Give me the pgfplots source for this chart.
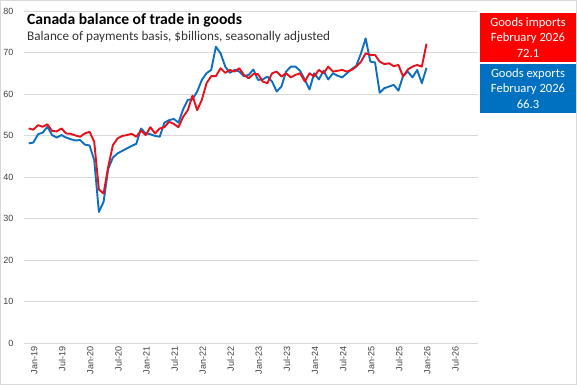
\documentclass[border=0pt]{standalone}
\usepackage{pgfplots}
\pgfplotsset{compat=1.18}
\usepackage{pgfplotstable}
\usepackage{fontspec}
\setmainfont{Carlito}
\newfontfamily\tickfont{Liberation Sans}
\definecolor{impred}{HTML}{E8101A}
\definecolor{expblue}{HTML}{0F6FBF}
\definecolor{boxred}{HTML}{FF0000}
\definecolor{boxblue}{HTML}{0070C0}
\definecolor{gridc}{HTML}{D9D9D9}
\definecolor{tickc}{HTML}{404040}
\pgfplotstableread{
i exp imp
0 48.1 51.7
1 48.3 51.4
2 50.3 52.5
3 50.7 52.1
4 52.1 52.7
5 50.1 51.1
6 49.5 51.0
7 50.1 51.7
8 49.5 50.5
9 49.1 50.4
10 48.8 50.0
11 48.9 49.7
12 47.8 50.5
13 47.6 50.9
14 44.1 48.5
15 31.6 37.0
16 34.0 36.0
17 42.0 42.5
18 44.7 47.7
19 45.7 49.3
20 46.3 49.9
21 46.9 50.1
22 47.5 50.4
23 48.0 49.7
24 51.7 51.2
25 50.5 50.1
26 50.3 52.0
27 49.9 50.5
28 49.7 51.7
29 53.1 52.0
30 53.7 53.3
31 54.0 52.8
32 53.1 52.0
33 56.3 54.5
34 58.6 56.1
35 58.7 59.6
36 60.6 56.1
37 63.4 58.6
38 65.0 62.6
39 65.8 64.3
40 71.4 64.3
41 69.8 66.2
42 66.6 65.1
43 65.1 65.8
44 65.8 65.4
45 65.4 66.2
46 64.3 64.6
47 64.6 63.8
48 65.9 64.8
49 63.4 64.8
50 63.5 63.0
51 64.2 62.6
52 63.0 65.0
53 60.6 65.4
54 61.8 64.2
55 65.4 65.0
56 66.6 64.0
57 66.6 64.6
58 65.6 65.0
59 63.4 63.0
60 61.1 65.0
61 65.0 64.2
62 63.5 65.8
63 65.6 65.0
64 63.5 66.6
65 65.0 65.4
66 64.4 65.6
67 64.0 65.8
68 65.0 65.4
69 66.0 65.8
70 66.8 66.6
71 69.8 67.8
72 73.4 69.8
73 67.8 69.4
74 67.6 69.4
75 60.3 67.8
76 61.4 67.2
77 61.8 67.4
78 62.2 66.7
79 60.8 67.0
80 64.4 64.2
81 65.4 65.9
82 64.0 66.6
83 65.8 67.0
84 62.6 66.6
85 66.3 72.1
}\tradedata
\begin{document}
\begin{tikzpicture}
\useasboundingbox (0,0) rectangle (577bp,385bp);
\draw[gridc, line width=0.75bp] (0.5bp,0.5bp) rectangle (576.5bp,384.5bp);
\begin{axis}[
  at={(24bp,42bp)}, anchor=south west,
  scale only axis, width=454bp, height=332bp,
  xmin=-1, xmax=96, ymin=0, ymax=80,
  axis line style={draw=none},
  ytick={0,10,...,80},
  ymajorgrids, grid style={gridc, line width=0.75bp},
  xtick={0,6,...,90},
  xticklabels={Jan-19,Jul-19,Jan-20,Jul-20,Jan-21,Jul-21,Jan-22,Jul-22,Jan-23,Jul-23,Jan-24,Jul-24,Jan-25,Jul-25,Jan-26,Jul-26},
  major tick length=0pt,
  tick style={draw=none},
  xticklabel style={rotate=90, anchor=east, font=\tickfont\fontsize{9bp}{11bp}\selectfont, text=tickc, yshift=-5.5bp},
  yticklabel style={font=\tickfont\fontsize{9bp}{11bp}\selectfont, text=tickc, xshift=-7bp},
  /pgf/number format/assume math mode=true,
  clip=false,
]
\addplot[expblue, line width=1.9bp, line join=round] table[x=i, y=exp] {\tradedata};
\addplot[impred, line width=1.9bp, line join=round] table[x=i, y=imp] {\tradedata};
\end{axis}
\node[anchor=west, font=\fontsize{15.6bp}{17bp}\selectfont\bfseries, text=black, inner sep=0pt] at (27bp,365bp) {Canada balance of trade in goods};
\node[anchor=west, font=\fontsize{13.2bp}{15bp}\selectfont, text=tickc!80!black, inner sep=0pt] at (27bp,347.5bp) {Balance of payments basis, \$billions, seasonally adjusted};
\fill[boxred] (480bp,323bp) rectangle (576bp,372bp);
\node[align=center, text=white, font=\fontsize{12.6bp}{15.5bp}\selectfont] at (528bp,347.5bp) {Goods imports\\February 2026\\72.1};
\fill[boxblue] (480bp,272bp) rectangle (576bp,321bp);
\node[align=center, text=white, font=\fontsize{12.6bp}{15.5bp}\selectfont] at (528bp,296.5bp) {Goods exports\\February 2026\\66.3};
\end{tikzpicture}
\end{document}
